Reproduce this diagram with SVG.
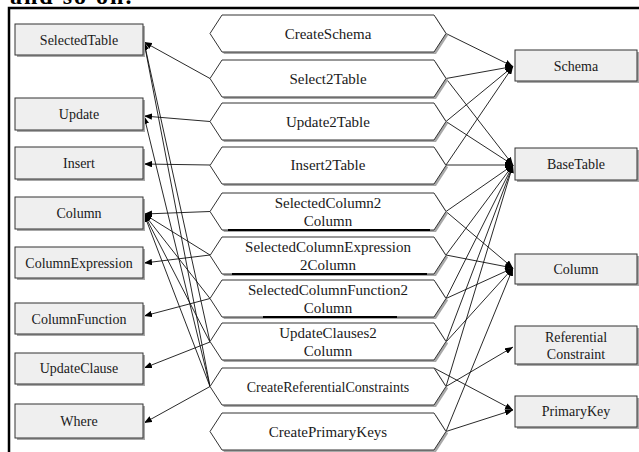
<svg xmlns="http://www.w3.org/2000/svg" width="639" height="452" viewBox="0 0 639 452">
<style>
.box{fill:#efefef;stroke:#333;stroke-width:1}
.shd{fill:#a8a8a8;stroke:none}
.hex{fill:#fff;stroke:#333;stroke-width:1}
.t{font-family:"Liberation Serif","Times New Roman",serif;font-size:14px;fill:#1a1a1a;text-anchor:middle}
.h{font-family:"Liberation Serif","Times New Roman",serif;font-size:15px;fill:#1a1a1a;text-anchor:middle}
.e{fill:none;stroke:#111;stroke-width:0.9;marker-end:url(#ar)}
.ul{stroke:#000;stroke-width:2}
</style>
<defs>
<marker id="ar" viewBox="0 0 10 8" refX="10" refY="4" markerWidth="8" markerHeight="6.4" markerUnits="userSpaceOnUse" orient="auto">
<path d="M0,0 L10,4 L0,8 Z" fill="#000"/>
</marker>
<path id="hx" d="M0,18.5 L12,0 L224,0 L236,18.5 L224,37 L12,37 Z"/>
</defs>
<text x="10" y="4" font-family="Liberation Serif, serif" font-size="24" font-weight="bold" letter-spacing="2" fill="#000">and so on.</text>
<path d="M9,452 V8 H639" fill="none" stroke="#000" stroke-width="2.5"/>

<g id="connectors">
<line class="e" x1="210" y1="78.5" x2="144" y2="42"/>
<line class="e" x1="210" y1="121.5" x2="144" y2="116"/>
<line class="e" x1="210" y1="165" x2="144" y2="164"/>
<line class="e" x1="210" y1="211.5" x2="144" y2="214"/>
<line class="e" x1="210" y1="255" x2="144" y2="263"/>
<line class="e" x1="210" y1="255" x2="144" y2="214"/>
<line class="e" x1="210" y1="298.5" x2="144" y2="316"/>
<line class="e" x1="210" y1="298.5" x2="144" y2="214"/>
<line class="e" x1="210" y1="342" x2="144" y2="368"/>
<line class="e" x1="210" y1="342" x2="144" y2="214"/>
<line class="e" x1="210" y1="386.5" x2="144" y2="423"/>
<line class="e" x1="210" y1="386.5" x2="144" y2="214"/>
<line class="e" x1="210" y1="386.5" x2="144" y2="42"/>
<line class="e" x1="210" y1="386.5" x2="144" y2="116"/>
<line class="e" x1="210" y1="342" x2="144" y2="42"/>

<line class="e" x1="446" y1="33.5" x2="513" y2="66.5"/>
<line class="e" x1="446" y1="78.5" x2="513" y2="66.5"/>
<line class="e" x1="446" y1="121.5" x2="513" y2="66.5"/>
<line class="e" x1="446" y1="165" x2="513" y2="66.5"/>
<line class="e" x1="446" y1="78.5" x2="513" y2="165"/>
<line class="e" x1="446" y1="121.5" x2="513" y2="165"/>
<line class="e" x1="446" y1="165" x2="513" y2="165"/>
<line class="e" x1="446" y1="211.5" x2="513" y2="165"/>
<line class="e" x1="446" y1="211.5" x2="513" y2="268"/>
<line class="e" x1="446" y1="255" x2="513" y2="165"/>
<line class="e" x1="446" y1="255" x2="513" y2="268"/>
<line class="e" x1="446" y1="298.5" x2="513" y2="165"/>
<line class="e" x1="446" y1="298.5" x2="513" y2="268"/>
<line class="e" x1="446" y1="342" x2="513" y2="165"/>
<line class="e" x1="446" y1="342" x2="513" y2="268"/>
<line class="e" x1="446" y1="386.5" x2="513" y2="165"/>
<line class="e" x1="446" y1="386.5" x2="513" y2="347"/>
<line class="e" x1="434" y1="368" x2="513" y2="410"/>
<line class="e" x1="446" y1="431.5" x2="513" y2="410"/>
<line class="e" x1="446" y1="431.5" x2="513" y2="268"/>
</g>

<g id="SelectedTable"><rect class="shd" x="17" y="26" width="128" height="31"/><rect class="box" x="15" y="24" width="128" height="31"/><text class="t" x="79" y="44.5">SelectedTable</text></g>
<g id="Update"><rect class="shd" x="17" y="100" width="128" height="32"/><rect class="box" x="15" y="98" width="128" height="32"/><text class="t" x="79" y="119">Update</text></g>
<g id="Insert"><rect class="shd" x="17" y="149" width="128" height="32"/><rect class="box" x="15" y="147" width="128" height="32"/><text class="t" x="79" y="168">Insert</text></g>
<g id="ColumnL"><rect class="shd" x="17" y="199" width="128" height="32"/><rect class="box" x="15" y="197" width="128" height="32"/><text class="t" x="79" y="218">Column</text></g>
<g id="ColumnExpression"><rect class="shd" x="17" y="249" width="128" height="31"/><rect class="box" x="15" y="247" width="128" height="31"/><text class="t" x="79" y="267.5">ColumnExpression</text></g>
<g id="ColumnFunction"><rect class="shd" x="17" y="305" width="128" height="31"/><rect class="box" x="15" y="303" width="128" height="31"/><text class="t" x="79" y="323.5">ColumnFunction</text></g>
<g id="UpdateClause"><rect class="shd" x="17" y="355" width="128" height="31"/><rect class="box" x="15" y="353" width="128" height="31"/><text class="t" x="79" y="373">UpdateClause</text></g>
<g id="Where"><rect class="shd" x="17" y="406" width="128" height="34"/><rect class="box" x="15" y="404" width="128" height="34"/><text class="t" x="79" y="426">Where</text></g>

<g id="CreateSchema"><use href="#hx" class="shd" x="212" y="17"/><use href="#hx" class="hex" x="210" y="15"/><text class="h" x="328" y="38.5">CreateSchema</text></g>
<g id="Select2Table"><use href="#hx" class="shd" x="212" y="62"/><use href="#hx" class="hex" x="210" y="60"/><text class="h" x="328" y="83.5">Select2Table</text></g>
<g id="Update2Table"><use href="#hx" class="shd" x="212" y="105"/><use href="#hx" class="hex" x="210" y="103"/><text class="h" x="328" y="126.5">Update2Table</text></g>
<g id="Insert2Table"><use href="#hx" class="shd" x="212" y="149"/><use href="#hx" class="hex" x="210" y="147"/><text class="h" x="328" y="170">Insert2Table</text></g>
<g id="SelectedColumn2Column"><use href="#hx" class="shd" x="212" y="195"/><use href="#hx" class="hex" x="210" y="193"/><line class="ul" x1="228" y1="230" x2="430" y2="230"/><text class="h" x="328" y="208">SelectedColumn2</text><text class="h" x="328" y="226">Column</text></g>
<g id="SelectedColumnExpression2Column"><use href="#hx" class="shd" x="212" y="239"/><use href="#hx" class="hex" x="210" y="237"/><line class="ul" x1="232" y1="274" x2="427" y2="274"/><text class="h" x="328" y="251.5">SelectedColumnExpression</text><text class="h" x="328" y="269.5">2Column</text></g>
<g id="SelectedColumnFunction2Column"><use href="#hx" class="shd" x="212" y="282"/><use href="#hx" class="hex" x="210" y="280"/><line class="ul" x1="263" y1="317" x2="397" y2="317"/><text class="h" x="328" y="295">SelectedColumnFunction2</text><text class="h" x="328" y="313">Column</text></g>
<g id="UpdateClauses2Column"><use href="#hx" class="shd" x="212" y="325"/><use href="#hx" class="hex" x="210" y="323"/><text class="h" x="328" y="338">UpdateClauses2</text><text class="h" x="328" y="356">Column</text></g>
<g id="CreateReferentialConstraints"><use href="#hx" class="shd" x="212" y="370"/><use href="#hx" class="hex" x="210" y="368"/><text class="t" x="328" y="391.5">CreateReferentialConstraints</text></g>
<g id="CreatePrimaryKeys"><use href="#hx" class="shd" x="212" y="415"/><use href="#hx" class="hex" x="210" y="413"/><text class="h" x="328" y="436.5">CreatePrimaryKeys</text></g>

<g id="Schema"><rect class="shd" x="517" y="52" width="122" height="31"/><rect class="box" x="515" y="50" width="122" height="31"/><text class="t" x="576" y="70.5">Schema</text></g>
<g id="BaseTable"><rect class="shd" x="517" y="150" width="122" height="32"/><rect class="box" x="515" y="148" width="122" height="32"/><text class="t" x="576" y="169">BaseTable</text></g>
<g id="ColumnR"><rect class="shd" x="517" y="256" width="122" height="30"/><rect class="box" x="515" y="254" width="122" height="30"/><text class="t" x="576" y="274">Column</text></g>
<g id="ReferentialConstraint"><rect class="shd" x="517" y="328" width="122" height="38"/><rect class="box" x="515" y="326" width="122" height="38"/><text class="t" x="576" y="342">Referential</text><text class="t" x="576" y="359">Constraint</text></g>
<g id="PrimaryKey"><rect class="shd" x="517" y="398" width="122" height="31"/><rect class="box" x="515" y="396" width="122" height="31"/><text class="t" x="576" y="416">PrimaryKey</text></g>
</svg>
